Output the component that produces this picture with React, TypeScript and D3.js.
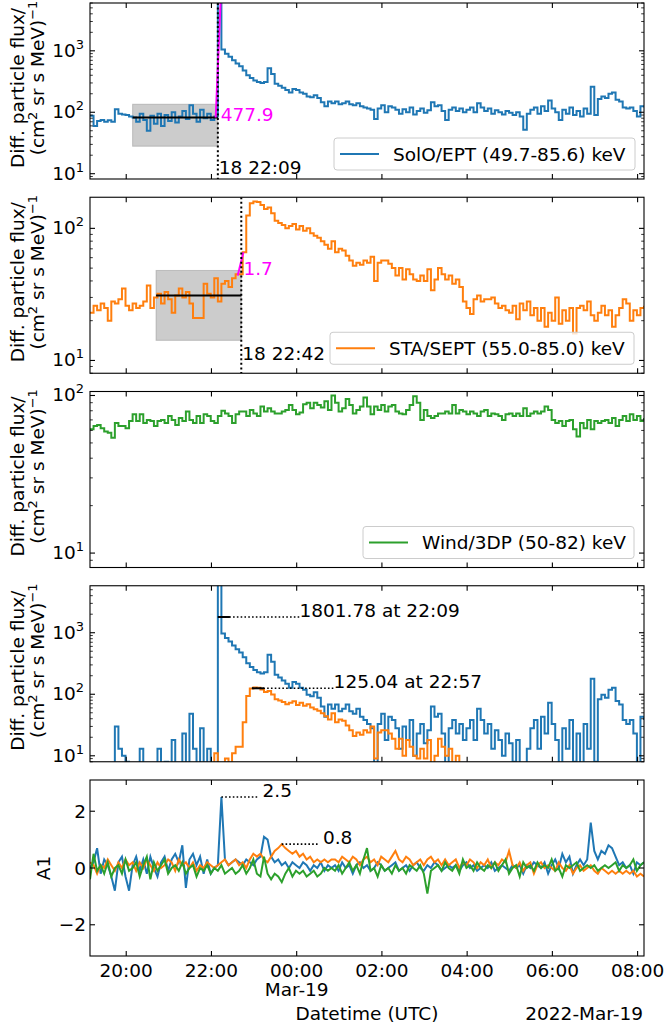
import React from "react";
import * as d3 from "d3";

const width = 664;
const height = 1028;
const left = 90;
const right = 644;
const font = "'DejaVu Sans', sans-serif";
const fs = 18.5;

const blue = "#1f77b4";
const orange = "#ff7f0e";
const green = "#2ca02c";
const magenta = "#ff00ff";

// 5-min bins starting 2022-03-18 19:09 UTC
const t0 = Date.UTC(2022, 2, 18, 19, 9);
const t1 = Date.UTC(2022, 2, 19, 8, 9);
const binMin = 5;

// SolO/EPT (49.7-85.6) keV
const soloFlux = [
  88, 60, 72, 75, 70, 74, 70, 112, 95, 92,
  90, 85, 82, 70, 95, 75, 50, 88, 65, 95,
  60, 90, 72, 100, 68, 85, 105, 78, 130, 95,
  70, 110, 80, 95, 75, 85, 8000, 1050, 900, 800,
  700, 620, 560, 480, 400, 360, 330, 310, 300, 310,
  520, 420, 290, 270, 250, 230, 210, 240, 230, 210,
  200, 180, 175, 190, 170, 145, 125, 150, 140, 150,
  135, 140, 150, 135, 130, 140, 125, 120, 115, 110,
  78, 115, 130, 100, 125, 120, 110, 95, 112, 100,
  120, 92, 105, 115, 98, 108, 145, 125, 130, 105,
  75, 110, 120, 105, 115, 100, 110, 120, 100, 140,
  120, 105, 115, 95, 108, 100, 92, 105, 98, 90,
  100, 85, 52, 95, 110, 120, 95, 125, 105, 155,
  115, 100, 75, 110, 95, 120, 90, 105, 85, 115,
  95, 260, 90, 165, 180, 170, 200, 210, 160, 150,
  120, 115, 120, 105, 85, 125, 120,
];

// STA/SEPT (55.0-85.0) keV
const staFlux = [
  23, 26, 24, 27, 25, 20, 28, 27, 29, 35,
  26, 24, 27, 25, 26, 28, 37, 25, 30, 32,
  27, 33, 29, 23, 31, 35, 30, 33, 27, 21,
  21, 21, 38, 32, 30, 42, 28, 38, 40, 36,
  42, 45, 45, 66, 125, 155, 160, 158, 150, 140,
  144, 130, 114, 110, 106, 100, 104, 108, 98, 104,
  96, 100, 92, 88, 85, 80, 75, 70, 80, 66,
  70, 68, 62, 57, 52, 55, 53, 57, 55, 61,
  40, 55, 57, 57, 54, 50, 44, 50, 41, 49,
  45, 41, 40, 44, 40, 49, 34, 41, 50, 45,
  41, 44, 38, 41, 36, 28, 25, 22.5, 29, 31,
  28, 29, 29, 30, 27, 25, 26, 24, 23, 26,
  20.5, 27, 24, 28, 22, 25, 20, 25, 18, 23,
  20, 30, 19, 24, 20, 25, 16, 25, 26, 24,
  28, 22, 20, 23, 26, 22, 24, 18, 22, 25,
  29, 27, 20, 24, 22, 25, 26,
];

// Wind/3DP (50-82) keV
const windFlux = [
  61, 64, 65, 62, 59, 58, 54, 67, 64, 64,
  62, 69, 76, 69, 76, 67, 70, 69, 64, 69,
  70, 67, 74, 70, 65, 72, 69, 79, 70, 67,
  74, 67, 76, 74, 69, 67, 74, 80, 77, 74,
  67, 76, 79, 79, 74, 81, 77, 74, 85, 79,
  83, 79, 77, 77, 79, 81, 87, 81, 76, 78,
  88, 90, 83, 90, 87, 84, 92, 81, 100, 90,
  79, 83, 95, 87, 77, 81, 85, 97, 85, 76,
  85, 81, 87, 79, 85, 87, 79, 77, 76, 81,
  87, 99, 90, 70, 81, 74, 72, 74, 77, 77,
  79, 77, 87, 77, 81, 79, 76, 79, 77, 74,
  79, 81, 74, 77, 76, 74, 70, 76, 77, 74,
  77, 74, 83, 74, 77, 79, 77, 79, 85, 81,
  70, 67, 69, 64, 69, 70, 61, 55, 67, 62,
  70, 61, 69, 67, 69, 70, 67, 72, 64, 70,
  74, 69, 76, 70, 74, 69, 72,
];

// A1 index
const soloA1 = [
  0.0, 0.2, 0.7, -0.2, 0.3, 0.1, -0.3, -0.8, 0.2, 0.4,
  -0.3, -0.8, 0.1, 0.4, -0.1, 0.3, -0.2, 0.4, 0.0, -0.3,
  0.2, 0.4, -0.1, 0.3, 0.5, 0.2, 0.8, -0.7, 0.3, 0.5,
  0.1, 0.4, -0.2, 0.3, -0.2, 0.0, 0.1, 2.5, 0.3, 0.1,
  0.2, 0.3, 0.2, 0.1, 0.3, 0.2, 0.1, 0.3, 0.4, 1.1,
  1.0, 0.4, 0.2, 0.3, 0.1, 0.2, 0.0, 0.2, 0.1, 0.0,
  0.2, 0.1, -0.1, 0.1, 0.0, 0.2, -0.1, 0.1, 0.0, 0.1,
  -0.1, 0.2, 0.0, 0.1, -0.2, 0.1, 0.2, 0.0, 0.1, -0.1,
  0.0, 0.2, 0.1, -0.1, 0.0, 0.1, 0.2, -0.1, 0.0, 0.1,
  -0.1, 0.1, 0.2, 0.0, -0.1, 0.1, 0.0, 0.2, 0.1, -0.1,
  0.0, 0.1, 0.0, 0.1, -0.1, 0.1, 0.2, 0.0, 0.1, -0.1,
  0.0, 0.1, 0.0, 0.2, -0.1, 0.0, 0.1, 0.0, -0.1, 0.1,
  0.0, 0.1, -0.2, 0.1, 0.0, 0.2, 0.1, 0.0, 0.2, -0.2,
  0.1, 0.3, 0.0, 0.5, 0.2, 0.4, -0.2, 0.1, 0.3, 0.1,
  0.3, 1.6, 0.6, 0.3, 0.6, 0.5, 0.8, 0.7, 0.4, 0.1,
  0.2, 0.0, 0.1, -0.2, 0.2, 0.1, 0.2,
];
const staA1 = [
  0.2, 0.1, -0.2, 0.1, 0.0, 0.3, 0.1, -0.1, 0.2, 0.0,
  0.3, 0.1, 0.2, -0.1, 0.2, 0.0, 0.3, 0.1, -0.1, 0.2,
  0.0, 0.1, 0.3, 0.2, -0.1, 0.3, 0.1, 0.2, 0.0, 0.2,
  -0.1, 0.1, 0.0, 0.2, 0.1, 0.0, 0.1, 0.2, 0.3, 0.1,
  0.2, 0.3, 0.1, 0.2, 0.0, 0.3, 0.5, 0.4, 0.5, 0.3,
  0.2, 0.4, 0.6, 0.7, 0.84, 0.7, 0.6, 0.5, 0.6, 0.4,
  0.5, 0.3, 0.4, 0.2, 0.3, 0.2, 0.3, 0.2, 0.3, 0.3,
  0.2, 0.4, 0.3, 0.2, 0.4, 0.3, 0.1, 0.3, 0.4, 0.2,
  0.3, 0.1, 0.4, 0.3, 0.2, 0.4, 0.6, 0.3, 0.2, 0.4,
  0.3, 0.1, 0.2, 0.3, 0.1, 0.3, 0.4, 0.2, 0.3, 0.1,
  0.3, 0.1, 0.2, 0.3, 0.0, 0.2, 0.1, 0.3, 0.2, 0.0,
  0.2, 0.1, 0.3, 0.0, 0.2, 0.1, 0.3, 0.2, 0.6, 0.1,
  0.0, 0.2, -0.1, 0.1, 0.2, -0.2, 0.1, 0.2, 0.0, 0.1,
  0.0, -0.1, 0.2, 0.0, -0.1, 0.1, -0.2, 0.0, 0.1, -0.1,
  0.0, 0.1, -0.1, -0.2, 0.0, -0.1, -0.2, -0.1, -0.2, -0.1,
  -0.2, -0.1, -0.2, -0.1, -0.3, -0.2, -0.3,
];
const windA1 = [
  -0.4, 0.5, -0.1, 0.1, -0.2, 0.2, -0.3, 0.0, 0.1, -0.2,
  0.3, -0.1, 0.0, 0.2, -0.3, 0.1, 0.4, -0.4, 0.2, -0.1,
  0.1, 0.3, -0.2, 0.0, 0.1, -0.1, 0.2, -0.2, 0.0, 0.1,
  -0.3, 0.0, -0.1, 0.1, -0.2, 0.0, -0.1, 0.1, -0.2, -0.1,
  0.0, -0.2, -0.1, 0.1, -0.2, 0.0, 0.3, -0.2, -0.3, 0.4,
  -0.2, -0.4, -0.2, -0.3, -0.5, -0.2, 0.0, -0.3, -0.1, -0.2,
  -0.1, -0.3, -0.2, -0.1, -0.3, -0.2, 0.0, -0.1, 0.0, -0.1,
  0.1, -0.2, 0.0, 0.2, -0.1, 0.1, -0.2, 0.3, 0.7, -0.1,
  0.0, -0.3, 0.1, -0.1, 0.0, -0.2, 0.1, -0.1, 0.0, -0.2,
  0.1, 0.0, -0.1, 0.1, -0.2, -0.9, -0.1, 0.0, 0.1, -0.1,
  0.2, 0.0, -0.1, 0.1, -0.2, 0.3, 0.0, 0.1, -0.1, 0.2,
  0.0, -0.1, 0.1, 0.0, 0.2, -0.1, 0.1, 0.3, -0.2, 0.0,
  0.1, -0.3, 0.2, 0.0, 0.1, -0.1, 0.2, 0.0, 0.1, 0.0,
  0.3, -0.1, 0.0, -0.3, 0.1, 0.0, 0.1, 0.2, -0.1, 0.0,
  0.1, 0.0, 0.1, -0.1, 0.0, 0.1, 0.0, 0.1, 0.2, -0.1,
  0.1, 0.0, 0.1, 0.3, -0.1, 0.1, 0.2,
];

const utc = (day: number, h: number, m: number) => new Date(Date.UTC(2022, 2, day, h, m));

// onset analysis: background window (2 h before onset), mean and spread
const soloOnset = utc(18, 22, 9);
const staOnset = utc(18, 22, 42);
const soloBg = [82, 28, 135]; // mean, low, high
const staBg = [31, 14.2, 48];
const soloFit = [[utc(18, 22, 6), 82], [utc(18, 22, 13), 7000]] as [Date, number][];
const staFit = [[utc(18, 22, 37), 44], [utc(18, 22, 45), 66]] as [Date, number][];
const soloFitLabel = "477.9";
const staFitLabel = "1.7";

// peaks of background-subtracted flux
const fluxPeaks = [
  { time: utc(18, 22, 9), value: 1801.78 },
  { time: utc(18, 22, 57), value: 125.04 },
];
const a1Peaks = [
  { time: utc(18, 22, 14), value: 2.5 },
  { time: utc(18, 23, 39), value: 0.84 },
];

const legends = [
  { label: "SolO/EPT (49.7-85.6) keV", color: blue, x0: 334, w: 301 },
  { label: "STA/SEPT (55.0-85.0) keV", color: orange, x0: 330, w: 304 },
  { label: "Wind/3DP (50-82) keV", color: green, x0: 363, w: 271 },
];

const ph = 176;
const top = (k: number) => 3 + 194.25 * k;

export default function App() {
  const x = d3.scaleUtc().domain([new Date(t0), new Date(t1)]).range([left, right]);
  const time = (i: number) => new Date(t0 + i * binMin * 60000);
  const yLog = (k: number, lo: number, hi: number) =>
    d3.scaleLog().domain([lo, hi]).range([top(k) + ph, top(k)]);

  const y1 = yLog(0, 8.2, 6000);
  const y2 = yLog(1, 8, 172);
  const y3 = yLog(2, 8.1, 106);
  const y4 = yLog(3, 8, 5800);
  const y5 = d3.scaleLinear().domain([-3.1, 3.1]).range([top(4) + ph, top(4)]);

  const soloSub = soloFlux.map((v) => v - soloBg[0]);
  const staSub = staFlux.map((v) => v - staBg[0]);

  const stepPath = (vals: number[], y: any) =>
    d3
      .line<number>()
      .x((_, i) => x(time(i)))
      .y((v) => y(Math.max(v, 1e-2)))
      .curve(d3.curveStepAfter)(vals) || "";
  const linePath = (vals: number[], y: any) =>
    d3
      .line<number>()
      .x((_, i) => x(time(i)))
      .y((v) => y(v))(vals) || "";

  const xTicks = x.ticks(d3.utcHour.every(2) as any);

  const frame = (k: number, y: any, log: boolean) => {
    const yt = top(k);
    const yb = yt + ph;
    const [lo, hi] = y.domain();
    const majors: number[] = [];
    const minors: number[] = [];
    if (log) {
      for (let p = 0; p <= 4; p++) {
        const d = Math.pow(10, p);
        if (d >= lo && d <= hi) majors.push(d);
        for (let m = 2; m <= 9; m++) if (m * d >= lo && m * d <= hi) minors.push(m * d);
      }
    } else {
      majors.push(-2, 0, 2);
    }
    return (
      <g key={"f" + k}>
        {xTicks.map((tk, i) => (
          <g key={"xt" + i} stroke="#000" strokeWidth={1.1}>
            <line x1={x(tk)} x2={x(tk)} y1={yb} y2={yb - 5} />
            <line x1={x(tk)} x2={x(tk)} y1={yt} y2={yt + 5} />
          </g>
        ))}
        {majors.map((v, i) => (
          <g key={"ym" + i}>
            <line x1={left} x2={left + 5} y1={y(v)} y2={y(v)} stroke="#000" strokeWidth={1.1} />
            <line x1={right} x2={right - 5} y1={y(v)} y2={y(v)} stroke="#000" strokeWidth={1.1} />
            {log ? (
              <text x={84} y={y(v) + 6} textAnchor="end" fontSize={fs}>
                10<tspan dy={-8} fontSize={13}>{Math.round(Math.log10(v))}</tspan>
              </text>
            ) : (
              <text x={86} y={y(v) + 6.5} textAnchor="end" fontSize={fs}>
                {v < 0 ? "\u2212" + Math.abs(v) : String(v)}
              </text>
            )}
          </g>
        ))}
        {minors.map((v, i) => (
          <g key={"yn" + i} stroke="#000" strokeWidth={0.8}>
            <line x1={left} x2={left + 2.8} y1={y(v)} y2={y(v)} />
            <line x1={right} x2={right - 2.8} y1={y(v)} y2={y(v)} />
          </g>
        ))}
        <rect x={left} y={yt} width={right - left} height={ph} fill="none" stroke="#000" strokeWidth={1.1} />
        {log ? (
          <g transform={`translate(0,${yt + ph / 2}) rotate(-90)`} fontSize={fs}>
            <text x={3} y={24} textAnchor="middle">Diff. particle flux/</text>
            <text x={13} y={44} textAnchor="middle">
              (cm<tspan dy={-7} fontSize={13}>2</tspan>
              <tspan dy={7}> sr s MeV)</tspan>
              <tspan dy={-7} fontSize={13}>{"\u22121"}</tspan>
            </text>
          </g>
        ) : (
          <text transform={`translate(50,${yt + ph / 2}) rotate(-90)`} textAnchor="middle" fontSize={fs}>
            A1
          </text>
        )}
      </g>
    );
  };

  const legend = (k: number) => {
    const lg = legends[k];
    const yb = top(k) + ph - 9;
    const ly = yb - 16;
    return (
      <g key={"lg" + k}>
        <rect x={lg.x0} y={yb - 32} width={lg.w} height={32} rx={3} fill="#fff" fillOpacity={0.8} stroke="#cccccc" />
        <line x1={lg.x0 + 6} x2={lg.x0 + 45} y1={ly} y2={ly} stroke={lg.color} strokeWidth={2} />
        <text x={lg.x0 + 59} y={ly + 6.5} fontSize={fs}>{lg.label}</text>
      </g>
    );
  };

  const onsetPanel = (
    k: number,
    y: any,
    vals: number[],
    color: string,
    onset: Date,
    bg: number[],
    fit: [Date, number][],
    fitLabel: string,
    fitLabelAt: [Date, number]
  ) => {
    const bgStart = new Date(+onset - 2 * 3600e3);
    return (
      <g key={"p" + k}>
        <g clipPath={`url(#clip${k})`}>
          <rect
            x={x(bgStart)}
            y={y(bg[2])}
            width={x(onset) - x(bgStart)}
            height={y(bg[1]) - y(bg[2])}
            fill="#808080"
            fillOpacity={0.4}
            stroke="#808080"
            strokeOpacity={0.4}
          />
          <path d={stepPath(vals, y)} fill="none" stroke={color} strokeWidth={2} />
          <line x1={x(bgStart)} x2={x(onset)} y1={y(bg[0])} y2={y(bg[0])} stroke="#000" strokeWidth={2} />
          <line
            x1={x(fit[0][0])}
            y1={y(fit[0][1])}
            x2={x(fit[1][0])}
            y2={y(fit[1][1])}
            stroke={magenta}
            strokeWidth={2}
          />
          <line x1={x(onset)} x2={x(onset)} y1={top(k)} y2={top(k) + ph} stroke="#000" strokeWidth={2} strokeDasharray="2,2.6" />
        </g>
        <text x={x(fitLabelAt[0])} y={y(fitLabelAt[1])} fill={magenta} fontSize={fs}>{fitLabel}</text>
        <text x={x(onset) + 1} y={y(10)} fontSize={fs}>{d3.utcFormat("%d %H:%M")(onset)}</text>
      </g>
    );
  };

  const textOffset = 115 * 60e3;
  const a1Offset = 58 * 60e3;

  return (
    <svg
      width={width}
      height={height}
      style={{ position: "absolute", left: 0, top: 0, background: "#fff" }}
      fontFamily={font}
    >
      <defs>
        {[0, 1, 2, 3, 4].map((k) => (
          <clipPath id={`clip${k}`} key={k}>
            <rect x={left} y={top(k)} width={right - left} height={ph} />
          </clipPath>
        ))}
      </defs>
      <rect width={width} height={height} fill="#fff" />

      {onsetPanel(0, y1, soloFlux, blue, soloOnset, soloBg, soloFit, soloFitLabel, [utc(18, 22, 13), 72])}
      {onsetPanel(1, y2, staFlux, orange, staOnset, staBg, staFit, staFitLabel, [utc(18, 22, 45), 44])}

      <g clipPath="url(#clip2)">
        <path d={stepPath(windFlux, y3)} fill="none" stroke={green} strokeWidth={2} />
      </g>

      <g clipPath="url(#clip3)">
        <path d={stepPath(soloSub, y4)} fill="none" stroke={blue} strokeWidth={2} />
        <path d={stepPath(staSub, y4)} fill="none" stroke={orange} strokeWidth={2} />
      </g>
      {fluxPeaks.map((p, i) => (
        <g key={"pk" + i}>
          <line
            x1={x(p.time)}
            x2={x(new Date(+p.time + textOffset))}
            y1={y4(p.value)}
            y2={y4(p.value)}
            stroke="#000"
            strokeWidth={1.6}
            strokeDasharray="1.6,2.2"
          />
          <line
            x1={x(p.time)}
            x2={x(new Date(+p.time + 17 * 60e3))}
            y1={y4(p.value)}
            y2={y4(p.value)}
            stroke="#000"
            strokeWidth={2}
          />
          <text x={x(new Date(+p.time + textOffset))} y={y4(p.value)} fontSize={fs}>
            {`${p.value.toFixed(2)} at ${d3.utcFormat("%H:%M")(p.time)}`}
          </text>
        </g>
      ))}

      <g clipPath="url(#clip4)" fill="none" strokeWidth={2}>
        <path d={linePath(soloA1, y5)} stroke={blue} />
        <path d={linePath(staA1, y5)} stroke={orange} />
        <path d={linePath(windA1, y5)} stroke={green} />
      </g>
      {a1Peaks.map((p, i) => (
        <g key={"a1" + i}>
          <line
            x1={x(p.time)}
            x2={x(new Date(+p.time + 51 * 60e3))}
            y1={y5(p.value)}
            y2={y5(p.value)}
            stroke="#000"
            strokeWidth={1.6}
            strokeDasharray="1.6,2.2"
          />
          <text x={x(new Date(+p.time + a1Offset))} y={y5(p.value)} fontSize={fs}>
            {p.value.toFixed(1)}
          </text>
        </g>
      ))}

      {frame(0, y1, true)}
      {frame(1, y2, true)}
      {frame(2, y3, true)}
      {frame(3, y4, true)}
      {frame(4, y5, false)}

      {legend(0)}
      {legend(1)}
      {legend(2)}

      {xTicks.map((tk, i) => (
        <g key={"xl" + i} fontSize={fs} textAnchor="middle">
          <text x={x(tk)} y={977}>{d3.utcFormat("%H:%M")(tk)}</text>
          {tk.getUTCHours() === 0 && <text x={x(tk)} y={996}>{d3.utcFormat("%b-%d")(tk)}</text>}
        </g>
      ))}
      <text x={(left + right) / 2} y={1020} textAnchor="middle" fontSize={fs}>
        Datetime (UTC)
      </text>
      <text x={right - 1} y={1020} textAnchor="end" fontSize={fs}>
        {d3.utcFormat("%Y-%b-%d")(new Date(t1))}
      </text>
    </svg>
  );
}
